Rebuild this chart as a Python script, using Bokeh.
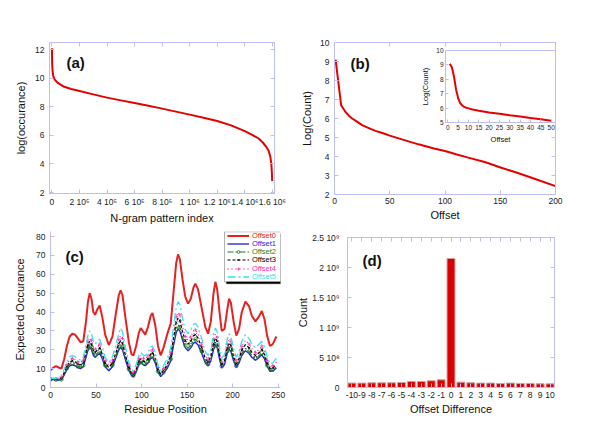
from bokeh.plotting import figure
from bokeh.models import (FixedTicker, LinearAxis, Range1d, Label, Legend, LegendItem,
                          BoxAnnotation, CustomLabelingPolicy)
from bokeh.layouts import row, column
from bokeh.embed import file_html
from bokeh.resources import INLINE

FONT = "Liberation Sans"
FRAME = "#bebef0"
RED = "#e60000"

# ---------------- (a) ----------------
a_index = [0, 2e3, 5e3, 1e4, 2e4, 4.5e4, 9e4, 1.4e5, 2e5, 3e5, 4e5, 5e5, 6e5, 7e5, 8e5,
           9e5, 1.0e6, 1.1e6, 1.2e6, 1.3e6, 1.4e6, 1.45e6, 1.5e6, 1.53e6, 1.555e6,
           1.573e6, 1.585e6, 1.592e6, 1.596e6, 1.598e6]
a_log = [12.1, 11.0, 10.5, 10.15, 9.9, 9.65, 9.4, 9.25, 9.1, 8.87, 8.64, 8.45, 8.26, 8.07,
         7.87, 7.66, 7.45, 7.23, 7.01, 6.7, 6.3, 6.05, 5.78, 5.5, 5.2, 4.9, 4.5, 4.0, 3.4, 2.8]
a_xticks = [0, 200000, 400000, 600000, 800000, 1000000, 1200000, 1400000, 1600000]
a_xlabels = ["0", "2 10⁵", "4 10⁵", "6 10⁵", "8 10⁵", "1 10⁶", "1.2 10⁶", "1.4 10⁶", "1.6 10⁶"]
a_yticks = [2, 4, 6, 8, 10, 12]

# ---------------- (b) ----------------
b_offset = [1, 6, 10, 13, 16, 20, 25, 30, 37, 44, 50, 61, 76, 90, 100, 110, 121, 136,
            151, 166, 181, 200]
b_log = [9.1, 6.7, 6.34, 6.15, 6.0, 5.85, 5.65, 5.52, 5.35, 5.22, 5.1, 4.9, 4.64, 4.42,
         4.29, 4.12, 3.94, 3.71, 3.41, 3.13, 2.83, 2.44]
b_xticks = [0, 50, 100, 150, 200]
b_yticks = [2, 3, 4, 5, 6, 7, 8, 9, 10]

inset_offset = [1, 2, 3, 4, 5, 6, 7, 8, 9, 10, 12, 15, 20, 25, 30, 35, 40, 45, 50]
inset_log = [9.07, 8.84, 8.2, 7.3, 6.7, 6.35, 6.18, 6.08, 6.02, 5.98, 5.9, 5.82, 5.7,
             5.6, 5.5, 5.42, 5.32, 5.22, 5.12]
inset_xticks = [0, 5, 10, 15, 20, 25, 30, 35, 40, 45, 50]
inset_yticks = [5, 6, 7, 8, 9, 10]

# ---------------- (c) ----------------
c_pos = [0, 3, 6, 9, 12, 15, 18, 21, 24, 27, 30, 33, 36, 39, 41, 43, 45, 47, 49, 51,
         54, 57, 60, 64, 68, 72, 75, 77, 79, 82, 86, 89, 91, 94, 97, 99, 102, 104, 107, 110,
         112, 115, 118, 121, 124, 128, 132, 135, 138, 140, 142, 145, 148, 151, 154, 157, 159,
         162, 166, 170, 173, 176, 179, 181, 183, 186, 188, 191, 194, 196, 198, 201, 204, 207,
         210, 214, 218, 221, 225, 228, 232, 235, 238, 241, 244, 248]
c_offset0 = [9.2, 10.5, 11.3, 10.6, 10.0, 15, 22, 27, 28.5, 28, 26, 24, 24.5, 35, 45,
             50, 47, 40, 38.5, 41, 43.5, 37, 28, 22.5, 27, 40, 49, 51.5, 49, 38,
             24, 17.5, 17, 22, 29, 31.5, 29.5, 28, 32, 38, 39.5, 33, 22, 17, 21,
             28, 34, 50, 66, 70.5, 68, 57, 48, 44.5, 47, 53, 55, 52, 42, 32,
             28.5, 35, 50, 56, 52, 38, 30, 31, 41, 47, 45, 35, 27.5, 31, 40,
             45.5, 43, 38, 35, 37, 40.5, 36, 27, 22, 23, 27]
c_offset1 = [4.2, 4.2, 4.0, 3.9, 4.0, 6.5, 9.5, 11.5, 12.0, 11.5, 10.5, 10.0, 11.0, 16.0, 19.5,
             21.5, 20.0, 17.0, 16.0, 17.0, 18.2, 15.0, 11.0, 8.8, 11.0, 16.0, 20.0, 21.2, 20.0, 15.0,
             9.0, 6.2, 5.8, 8.0, 12.0, 13.2, 12.0, 11.5, 13.0, 15.3, 15.9, 13.0, 8.0, 5.8, 7.5,
             10.0, 14.0, 22.0, 29.0, 31.0, 30.0, 25.0, 21.0, 19.5, 21.0, 23.5, 24.0, 22.5, 18.0, 13.0,
             11.5, 14.0, 20.0, 22.7, 21.0, 14.0, 10.5, 12.0, 18.0, 20.4, 19.0, 14.0, 10.7, 13.0, 17.0,
             19.5, 18.0, 16.0, 14.5, 15.5, 17.3, 15.0, 11.0, 8.5, 8.8, 10.3]
c_offset2 = [4.3, 4.3, 4.2, 4.1, 4.3, 7.0, 10.2, 12.3, 12.8, 12.3, 11.2, 10.8, 11.8, 17.0, 20.7,
             22.8, 21.2, 18.0, 17.0, 18.0, 19.2, 16.0, 11.8, 9.5, 11.8, 17.0, 21.3, 22.5, 21.3, 16.0,
             9.7, 6.8, 6.3, 8.6, 12.8, 14.0, 12.8, 12.3, 13.8, 16.2, 16.9, 13.8, 8.6, 6.3, 8.0,
             10.8, 15.0, 23.5, 31.0, 33.2, 32.0, 26.6, 22.4, 20.8, 22.4, 25.0, 25.5, 24.0, 19.2, 13.9,
             12.3, 15.0, 21.3, 24.0, 22.3, 15.0, 11.2, 12.8, 19.2, 21.6, 20.2, 15.0, 11.4, 13.8, 18.0,
             20.7, 19.1, 17.0, 15.4, 16.5, 18.4, 16.0, 11.7, 9.0, 9.4, 11.0]
c_offset3 = [4.5, 4.5, 4.4, 4.5, 5.0, 7.8, 11.2, 13.5, 14.2, 13.6, 12.5, 12.0, 13.2, 18.8, 22.5,
             24.5, 23.0, 19.8, 18.6, 19.7, 21.0, 17.5, 13.0, 10.6, 13.0, 18.7, 23.3, 24.8, 23.5, 17.8,
             10.8, 7.5, 7.0, 9.6, 14.0, 15.3, 14.0, 13.5, 15.2, 17.7, 18.4, 15.2, 9.6, 7.0, 9.0,
             12.0, 16.8, 26.0, 34.5, 36.8, 35.5, 29.5, 24.8, 23.0, 24.6, 27.5, 28.0, 26.3, 21.0, 15.3,
             13.6, 16.5, 23.3, 26.3, 24.5, 16.5, 12.4, 14.0, 21.0, 23.7, 22.2, 16.5, 12.6, 15.2, 19.8,
             22.7, 21.0, 18.7, 17.0, 18.0, 20.2, 17.5, 13.0, 10.0, 10.4, 12.2]
c_offset4 = [4.6, 4.7, 4.6, 4.8, 5.6, 8.6, 12.2, 14.8, 15.5, 14.8, 13.6, 13.2, 14.5, 20.5, 24.5,
             26.5, 25.0, 21.5, 20.3, 21.5, 23.0, 19.0, 14.3, 11.8, 14.5, 20.5, 25.5, 27.5, 26.0, 19.5,
             12.0, 8.3, 7.8, 10.6, 15.5, 16.8, 15.5, 15.0, 16.7, 19.4, 20.0, 16.6, 10.6, 7.8, 10.0,
             13.3, 18.5, 28.5, 37.5, 40.0, 38.5, 32.0, 27.0, 25.0, 26.8, 30.0, 30.5, 28.6, 23.0, 16.8,
             15.0, 18.0, 25.5, 28.5, 26.5, 18.0, 13.7, 15.5, 23.0, 26.0, 24.3, 18.0, 14.0, 16.7, 21.7,
             25.0, 23.0, 20.5, 18.6, 19.8, 22.0, 19.2, 14.3, 11.0, 11.5, 13.5]
c_offset5 = [4.8, 4.9, 4.8, 5.2, 6.3, 9.5, 13.5, 16.3, 17.0, 16.3, 15.0, 14.5, 16.0, 23.0, 27.5,
             30.0, 28.5, 24.5, 23.0, 24.5, 25.5, 21.5, 16.0, 13.2, 16.3, 23.0, 28.8, 31.5, 29.5, 22.0,
             13.5, 9.5, 9.0, 12.0, 17.0, 18.5, 17.2, 16.8, 18.5, 21.5, 22.0, 18.5, 12.0, 9.0, 11.5,
             15.0, 21.0, 32.0, 42.5, 45.5, 44.0, 36.5, 30.5, 28.5, 30.5, 33.5, 34.0, 32.0, 26.0, 19.0,
             17.0, 20.5, 28.5, 31.5, 29.5, 20.5, 15.5, 17.5, 25.5, 28.5, 27.0, 20.5, 16.0, 19.0, 24.5,
             28.0, 26.0, 23.0, 21.0, 22.5, 24.5, 21.5, 16.0, 12.5, 13.0, 15.5]
c_names = ["Offset0", "Offset1", "Offset2", "Offset3", "Offset4", "Offset5"]
c_xticks = [0, 50, 100, 150, 200, 250]
c_yticks = [0, 10, 20, 30, 40, 50, 60, 70, 80]

# ---------------- (d) ----------------
d_diff = [-10, -9, -8, -7, -6, -5, -4, -3, -2, -1, 0, 1, 2, 3, 4, 5, 6, 7, 8, 9, 10]
d_count = [7.3e7, 7.3e7, 7.8e7, 7.8e7, 7.8e7, 8.4e7, 1.0e8, 1.0e8, 1.12e8, 1.28e8, 2.15e9,
           8.9e7, 7.8e7, 7.3e7, 7.3e7, 6.7e7, 7.3e7, 6.7e7, 6.7e7, 6.1e7, 6.1e7]
d_yticks = [0, 500000000, 1000000000, 1500000000, 2000000000, 2500000000]
d_ylabels = ["0", "5 10⁸", "1 10⁹", "1.5 10⁹", "2 10⁹", "2.5 10⁹"]

NO_LABELS = """
try {
  const all = Array.from(indices)
  for (const i of all) indices.unset(i)
} catch (e) {}
return indices
"""


def make_fig(w, h, xr, yr, mbl, mbr, mbt, mbb, frame=True):
    p = figure(width=w, height=h, x_range=Range1d(*xr), y_range=Range1d(*yr),
               output_backend="svg", toolbar_location=None, title=None,
               min_border_left=mbl, min_border_right=mbr, min_border_top=mbt,
               min_border_bottom=mbb)
    try:
        p.frame_align = False
    except Exception:
        pass
    p.xgrid.visible = False
    p.ygrid.visible = False
    p.outline_line_color = FRAME if frame else None
    return p


def style_axis(ax, ticks, labels=None, size="8.5px", standoff=5, lsize="11px", lstand=5):
    ax.ticker = FixedTicker(ticks=ticks)
    if labels is not None:
        ax.major_label_overrides = {t: l for t, l in zip(ticks, labels)}
    ax.axis_line_color = FRAME
    ax.major_tick_line_color = FRAME
    ax.major_tick_in = 4
    ax.major_tick_out = 0
    ax.minor_tick_line_color = None
    ax.major_label_text_font = FONT
    ax.major_label_text_font_size = size
    ax.major_label_text_color = "#222222"
    ax.major_label_standoff = standoff
    ax.axis_label_text_font = FONT
    ax.axis_label_text_font_size = lsize
    ax.axis_label_text_font_style = "normal"
    ax.axis_label_text_color = "#111111"
    ax.axis_label_standoff = lstand


def mirror(p, xticks, yticks):
    for side, ticks in (("right", yticks), ("above", xticks)):
        ax = LinearAxis()
        style_axis(ax, ticks)
        ax.major_label_text_font_size = "0px"
        ax.major_label_standoff = 0
        ax.major_label_policy = CustomLabelingPolicy(code=NO_LABELS)
        p.add_layout(ax, side)


def panel_label(p, text, x, y):
    p.add_layout(Label(x=x, y=y, x_units="screen", y_units="screen", text=text,
                       text_font=FONT, text_font_style="bold", text_font_size="15px",
                       text_baseline="middle", text_color="#111111"))


# ---- (a)
pa = make_fig(298, 226, (-17500, 1615000), (1.93, 12.5), 49, 24, 42, 32)
pa.line(a_index, a_log, line_color=RED, line_width=2)
style_axis(pa.xaxis[0], a_xticks, a_xlabels, standoff=3, lstand=2)
style_axis(pa.yaxis[0], a_yticks, lstand=5)
pa.xaxis.axis_label = "N-gram pattern index"
pa.yaxis.axis_label = "log(occurance)"
mirror(pa, a_xticks, a_yticks)
panel_label(pa, "(a)", 17, 131)

# ---- (b)
pb = make_fig(294, 226, (0, 200), (2, 10), 34, 37, 42, 32)
pb.line(b_offset, b_log, line_color=RED, line_width=2)
style_axis(pb.xaxis[0], b_xticks, standoff=3, lstand=2)
style_axis(pb.yaxis[0], b_yticks, lstand=4)
pb.xaxis.axis_label = "Offset"
pb.yaxis.axis_label = "Log(Count)"
mirror(pb, b_xticks, b_yticks)
panel_label(pb, "(b)", 16, 131)

# ---- inset of (b)
pin = make_fig(142, 106, (-1.1, 52.1), (5, 10), 28, 4, 6, 28)
pin.margin = (44, 0, 0, -175)
pin.border_fill_alpha = 0
pin.line(inset_offset, inset_log, line_color=RED, line_width=2)
style_axis(pin.xaxis[0], inset_xticks, size="6.5px", standoff=2, lsize="7.5px", lstand=2)
style_axis(pin.yaxis[0], inset_yticks, size="6.5px", standoff=2, lsize="7.5px", lstand=3)
pin.xaxis.major_tick_in = 3
pin.yaxis.major_tick_in = 3
pin.xaxis.axis_label = "Offset"
pin.yaxis.axis_label = "Log(Count)"

# ---- (c)
pc = make_fig(294, 193, (0, 252.5), (0, 82.65), 50, 14, 5, 32, frame=False)
c_series = [c_offset0, c_offset1, c_offset2, c_offset3, c_offset4, c_offset5]
c_colors = ["#e52222", "#1c1ce0", "#1f7a1f", "#000000", "#ff2aa5", "#33e3f0"]
c_dash = ["solid", "solid", "6 2 2 2", "3 2", "1 3", "8 3 2 3"]
c_width = [2, 1.3, 1.2, 1.2, 1.3, 1.3]
c_marker = [None, None, "circle", "x", "cross", None]
c_rends = []
for ys, col, dash, lw, mk in zip(c_series, c_colors, c_dash, c_width, c_marker):
    rl = pc.line(c_pos, ys, line_color=col, line_dash=dash, line_width=lw)
    rs = [rl]
    if mk is not None:
        rs.append(pc.scatter(c_pos[::2], ys[::2], marker=mk, size=3.5, line_color=col,
                             fill_color=None, line_width=0.8))
    c_rends.append(rs)
style_axis(pc.xaxis[0], c_xticks, standoff=4, lstand=2)
style_axis(pc.yaxis[0], c_yticks, lstand=7)
pc.xaxis.axis_label = "Residue Position"
pc.yaxis.axis_label = "Expected Occurance"
panel_label(pc, "(c)", 15, 130.7)

# legend box with shadow
pc.add_layout(BoxAnnotation(left=176, right=235, bottom=103.7, top=153.7,
                            left_units="screen", right_units="screen",
                            bottom_units="screen", top_units="screen",
                            fill_color="black", fill_alpha=1, line_color="black"))
pc.add_layout(BoxAnnotation(left=174, right=233, bottom=105.7, top=155.7,
                            left_units="screen", right_units="screen",
                            bottom_units="screen", top_units="screen",
                            fill_color="white", fill_alpha=1, line_color="black",
                            line_width=1))
for i, (name, col, rs) in enumerate(zip(c_names, c_colors, c_rends)):
    centre = 151.7 - i * 8.2
    leg = Legend(items=[LegendItem(label=name, renderers=rs)],
                 location=(177, centre - 4.5),
                 padding=0, margin=0, spacing=0, glyph_height=7, glyph_width=22,
                 label_height=7, label_standoff=3, label_text_font=FONT,
                 label_text_font_size="7.5px", label_text_color=col,
                 border_line_alpha=0, background_fill_alpha=0)
    pc.add_layout(leg)

# ---- (d)
pd_ = make_fig(298, 193, (-10.45, 10.45), (0, 2.5e9), 42, 38, 11, 32)
pd_.vbar(x=d_diff, top=d_count, width=0.8, fill_color="#dd0000", line_color="#cfa0a0",
         line_width=1)
style_axis(pd_.xaxis[0], d_diff, [str(v) for v in d_diff], standoff=4, lstand=2)
style_axis(pd_.yaxis[0], d_yticks, d_ylabels, standoff=8, lstand=0)
pd_.xaxis.axis_label = "Offset Difference"
pd_.yaxis.axis_label = "Count"
mirror(pd_, d_diff, d_yticks)
panel_label(pd_, "(d)", 15, 126.7)

layout = column(row(pa, pb, pin), row(pc, pd_))

with open("out.html", "w") as f:
    f.write(file_html(layout, INLINE, "chart"))
